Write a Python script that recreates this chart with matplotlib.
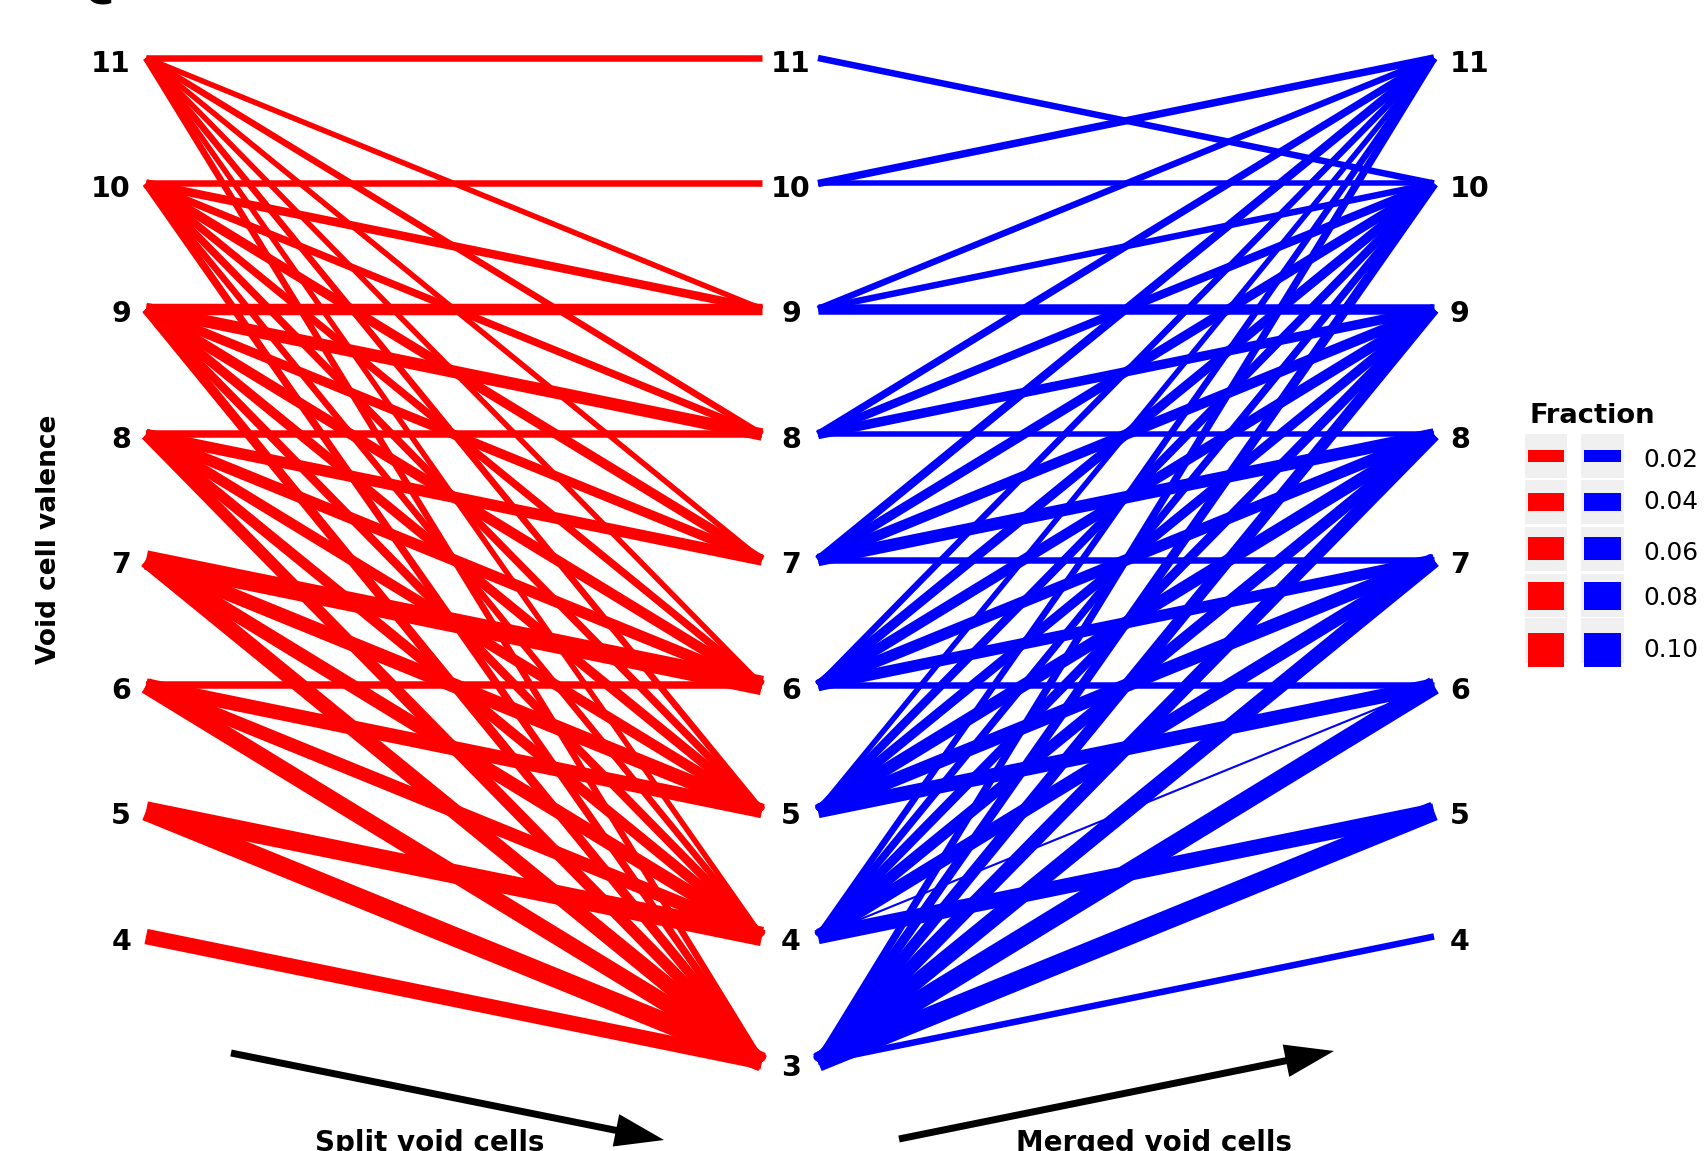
import matplotlib
matplotlib.use("Agg")
import matplotlib.pyplot as plt
from matplotlib.patches import Rectangle

# valences shown in each column
left_vals = [4, 5, 6, 7, 8, 9, 10, 11]
mid_vals = [3, 4, 5, 6, 7, 8, 9, 10, 11]
right_vals = [4, 5, 6, 7, 8, 9, 10, 11]

# split void cells: left valence -> middle valence, fraction
red_src = [11, 11, 11, 11, 11, 11, 11, 11,
           10, 10, 10, 10, 10, 10, 10, 10,
           9, 9, 9, 9, 9, 9, 9,
           8, 8, 8, 8, 8, 8,
           7, 7, 7, 7,
           6, 6, 6, 6,
           5, 5,
           4]
red_dst = [11, 9, 8, 7, 6, 5, 4, 3,
           10, 9, 8, 7, 6, 5, 4, 3,
           9, 8, 7, 6, 5, 4, 3,
           8, 7, 6, 5, 4, 3,
           6, 5, 4, 3,
           6, 5, 4, 3,
           4, 3,
           3]
red_frac = [0.025, 0.02, 0.025, 0.02, 0.02, 0.025, 0.02, 0.025,
            0.025, 0.035, 0.03, 0.04, 0.03, 0.03, 0.025, 0.03,
            0.05, 0.055, 0.04, 0.045, 0.04, 0.035, 0.04,
            0.03, 0.05, 0.05, 0.045, 0.045, 0.05,
            0.09, 0.065, 0.06, 0.07,
            0.03, 0.065, 0.06, 0.075,
            0.09, 0.09,
            0.07]

# merged void cells: middle valence -> right valence, fraction
blue_src = [11,
            10, 10,
            9, 9, 9,
            8, 8, 8, 8,
            7, 7, 7, 7, 7,
            6, 6, 6, 6, 6, 6,
            5, 5, 5, 5, 5, 5,
            4, 4, 4, 4, 4, 4, 4,
            3, 3, 3, 3, 3, 3, 3, 3]
blue_dst = [10,
            11, 10,
            11, 10, 9,
            11, 10, 9, 8,
            11, 10, 9, 8, 7,
            11, 10, 9, 8, 7, 6,
            11, 10, 9, 8, 7, 6,
            11, 10, 9, 8, 7, 6, 5,
            11, 10, 9, 8, 7, 6, 5, 4]
blue_frac = [0.025,
             0.03, 0.02,
             0.025, 0.025, 0.045,
             0.03, 0.035, 0.04, 0.02,
             0.035, 0.04, 0.045, 0.055, 0.025,
             0.025, 0.04, 0.045, 0.05, 0.05, 0.025,
             0.02, 0.035, 0.04, 0.055, 0.06, 0.065,
             0.025, 0.03, 0.04, 0.05, 0.06, 0.003, 0.07,
             0.03, 0.04, 0.05, 0.06, 0.07, 0.085, 0.09, 0.025]

legend_fracs = [0.02, 0.04, 0.06, 0.08, 0.10]
legend_labels = ["0.02", "0.04", "0.06", "0.08", "0.10"]

W, H = 1706, 1151
fig = plt.figure(figsize=(W / 100, H / 100), dpi=100)

# main axes: x in pixels, y in valence units
step = 125.5
ax = fig.add_axes([0, 0, 1, 1])
ax.set_xlim(0, W)
ax.set_ylim(11 - (H - 58) / step, 11 + 58 / step)
ax.axis("off")

x_left, x_mid_r, x_mid_b, x_right = 146, 762, 818, 1434


def lw(f):
    # line width in points from fraction
    return (1.5 + 200 * f) * 0.72


for s, d, f in zip(red_src, red_dst, red_frac):
    ax.plot([x_left, x_mid_r], [s, d], color="#ff0000", lw=lw(f),
            solid_capstyle="butt")
for s, d, f in zip(blue_src, blue_dst, blue_frac):
    ax.plot([x_mid_b, x_right], [s, d], color="#0000ff", lw=lw(f),
            solid_capstyle="butt")

lab = dict(fontsize=20.5, fontweight="bold", va="center_baseline")
dy = 2.5 / step  # labels sit a touch below the node
for v in left_vals:
    ax.text(131, v - dy, str(v), ha="right", **lab)
for v in mid_vals:
    ax.text(791, v - dy, str(v), ha="center", **lab)
for v in right_vals:
    ax.text(1450, v - dy, str(v), ha="left", **lab)

# overlay axes in pixel coordinates for annotations
ov = fig.add_axes([0, 0, 1, 1])
ov.set_xlim(0, W)
ov.set_ylim(H, 0)
ov.axis("off")
ov.patch.set_alpha(0)

ov.text(49, 539, "Void cell valence", rotation=90, fontsize=19,
        fontweight="bold", ha="center", va="center")
ov.text(100, 4, "c", fontsize=36, fontweight="bold", ha="center",
        va="baseline")

# arrows
ov.arrow(231, 1053, 664 - 231, 1140 - 1053, width=7, head_width=33,
         head_length=49, length_includes_head=True, color="black", lw=0)
ov.arrow(899, 1139, 1334 - 899, 1051 - 1139, width=7, head_width=33,
         head_length=49, length_includes_head=True, color="black", lw=0)
ov.text(430, 1129, "Split void cells", fontsize=20, fontweight="bold",
        ha="center", va="top")
ov.text(1154, 1129, "Merged void cells", fontsize=20, fontweight="bold",
        ha="center", va="top")

# legend
ov.text(1530, 416, "Fraction", fontsize=19.7, fontweight="bold",
        ha="left", va="center")
bg_rows = [(434, 478), (480, 524), (527, 571), (574, 617), (618, 663)]
key_centers = [456, 502, 548, 596, 650]
label_y = [460, 502, 553, 598, 650]
for (t, b), yc, ly, f, txt in zip(bg_rows, key_centers, label_y,
                                  legend_fracs, legend_labels):
    for x0, x1, col in [(1525, 1567, "#ff0000"), (1581, 1624, "#0000ff")]:
        ov.add_patch(Rectangle((x0, t), x1 - x0, b - t, color="#f0f0f0", lw=0))
        h = 6.5 + 275 * f
        ov.add_patch(Rectangle((x0 + 3, yc - h / 2), x1 - x0 - 6, h,
                               color=col, lw=0))
    ov.text(1643, ly, txt, fontsize=17.8, ha="left", va="center")

fig.savefig("out.png", dpi=100)
